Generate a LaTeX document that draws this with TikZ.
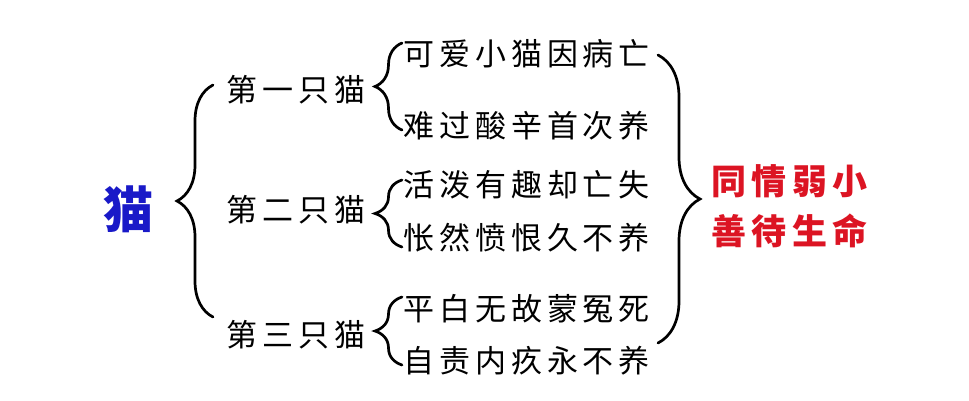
\documentclass[tikz,border=0pt]{standalone}
\usepackage{fontspec}
\newfontfamily\cjk[LetterSpace=16]{Noto Sans CJK SC}
\usetikzlibrary{decorations.pathreplacing}
\definecolor{catblue}{RGB}{25,25,200}
\definecolor{lessonred}{RGB}{220,20,35}
\tikzset{
	textline/.style = {font=\cjk\fontsize{31pt}{36pt}\selectfont, inner sep=0, anchor=west},
	curly/.style = {decorate, decoration={brace, amplitude=#1}, line width=2.7pt, line cap=round},
}
\begin{document}
\begin{tikzpicture}[x=1pt, y=-1pt]
	\useasboundingbox (0,0) rectangle (969,400);
	%a macska
	\node (cat) at (128,209) [font=\cjk\bfseries\fontsize{50pt}{50pt}\selectfont, text=catblue, inner sep=0] {猫};
	\coordinate (bigtop) at (213,85);
	\coordinate (bigbot) at (213,317);
	\draw [curly=36] (bigbot) -- (bigtop);
	
	%harom macska
	\foreach \name/\y in {one/90, two/210, three/335}
	\coordinate (\name) at (226,\y);
	\node (first) at (one) [textline] {第一只猫};
	\node (second) at (two) [textline] {第二只猫};
	\node (third) at (three) [textline] {第三只猫};
	
	%kis zarojelek
	\foreach \name/\top/\bot in {one/43/130, two/180/247, three/297/365}
	{
		\coordinate (\name top) at (402,\top);
		\coordinate (\name bot) at (402,\bot);
		\draw [curly=27] (\name bot) -- (\name top);
	}
	
	%sorok
	\foreach \idx/\y/\txt in {1/54/可爱小猫因病亡, 2/126/难过酸辛首次养, 3/185/活泼有趣却亡失, 4/238/怅然愤恨久不养, 5/309/平白无故蒙冤死, 6/361/自责内疚永不养}
	\node (line\idx) at (403,\y) [textline] {\txt};
	
	%jobb oldal
	\coordinate (righttop) at (658,55);
	\coordinate (rightbot) at (658,343);
	\draw [curly=42] (righttop) -- (rightbot);
	\node (lesson) at (711,206) [anchor=west, inner sep=0, align=left, text=lessonred, font=\cjk\bfseries\fontsize{35pt}{50pt}\selectfont] {同情弱小\\善待生命};
\end{tikzpicture}
\end{document}
